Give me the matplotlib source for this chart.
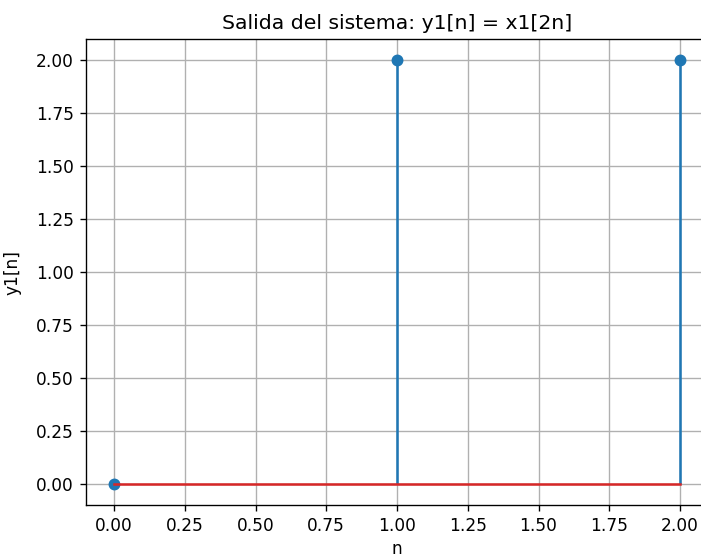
import matplotlib
matplotlib.use("Agg")
import matplotlib.pyplot as plt

n = [0, 1, 2]
y1 = [0, 2, 2]

DPI = 122
fig = plt.figure(figsize=(701 / DPI, 558 / DPI), dpi=DPI)
ax = fig.add_axes([0.1223, 0.0946, 0.8882, 0.8358])
ax.stem(n, y1)
ax.set_title("Salida del sistema: y1[n] = x1[2n]")
ax.set_xlabel("n", labelpad=3)
ax.set_ylabel("y1[n]")
ax.yaxis.set_label_coords(-0.103, 0.5)
ax.grid(True)
fig.savefig("out.png", dpi=DPI)
